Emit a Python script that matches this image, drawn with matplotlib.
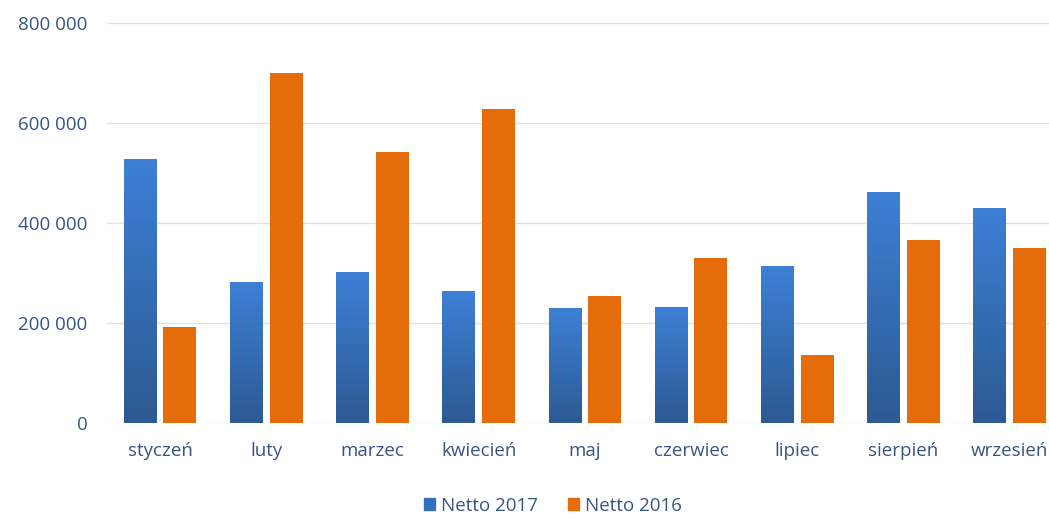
import matplotlib.pyplot as plt
import numpy as np
from matplotlib.colors import LinearSegmentedColormap
from matplotlib.patches import Patch

months = ['styczeń', 'luty', 'marzec', 'kwiecień', 'maj', 'czerwiec', 'lipiec', 'sierpień', 'wrzesień']
netto_2017 = [528000, 282000, 302000, 264000, 230000, 232000, 314000, 462000, 430000]
netto_2016 = [192000, 700000, 542000, 628000, 254000, 330000, 136000, 366000, 350000]

plt.rcParams['font.family'] = ['Open Sans', 'DejaVu Sans']
text_col = '#3a5482'
blue_top, blue_bot = '#3d80d6', '#2c5a92'
orange = '#e46c0a'

fig = plt.figure(figsize=(10.49, 5.2), dpi=100)
ax = fig.add_axes([107 / 1049, 97 / 520, 942 / 1049, 400 / 520])

x = np.arange(len(months))
w = 0.31
off = 0.186

cmap = LinearSegmentedColormap.from_list('bl', [blue_bot, blue_top])
grad = np.linspace(0, 1, 256).reshape(-1, 1)
for xi, v in zip(x, netto_2017):
    ax.imshow(grad, cmap=cmap, origin='lower', aspect='auto',
              extent=(xi - off - w / 2, xi - off + w / 2, 0, v), zorder=2)
ax.bar(x + off, netto_2016, width=w, color=orange, zorder=2)

ax.set_xlim(-0.5, 8.37)
ax.set_ylim(0, 800000)
ax.set_yticks(np.arange(0, 800001, 200000))
ax.set_yticklabels([f'{int(t):,}'.replace(',', ' ') for t in np.arange(0, 800001, 200000)])
ax.set_xticks(x)
ax.set_xticklabels(months)
ax.grid(axis='y', color='#d9e1ee', linewidth=1, zorder=0)
for s in ax.spines.values():
    s.set_visible(False)
ax.tick_params(length=0, labelsize=13.5, colors=text_col, pad=14)
ax.tick_params(axis='y', pad=14)

handles = [Patch(color='#3470c0', label='Netto 2017'), Patch(color=orange, label='Netto 2016')]
fig.legend(handles=handles, loc='lower center', bbox_to_anchor=(0.527, -0.022), ncol=2,
           frameon=False, fontsize=13.5, labelcolor=text_col, handlelength=0.6,
           handleheight=0.6, handletextpad=0.3, columnspacing=1.6)

fig.savefig('out.png', dpi=100)
